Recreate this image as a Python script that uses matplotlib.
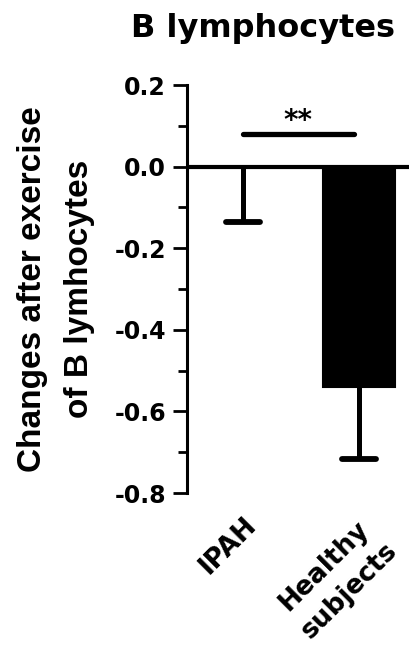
import numpy as np
import matplotlib.pyplot as plt
from matplotlib.ticker import MultipleLocator

plt.rcParams['font.family'] = ['DejaVu Sans']
plt.rcParams['font.weight'] = 'bold'

# data
groups = ['IPAH', 'Healthy\nsubjects']
means = [0.0, -0.54]
sem_low = [0.135, 0.177]
bar_colors = ['white', 'black']
sig_y = 0.08

fig = plt.figure(figsize=(4.09, 6.51), dpi=100)
ax = fig.add_axes([0.457, 0.2427, 0.543, 0.6267])

x = np.arange(len(groups))
lows = np.array(means) - np.array(sem_low)
ax.bar(x, means, width=0.62, color=bar_colors, edgecolor='black', linewidth=1.5, zorder=2)
# one-sided (downward) error bars with rounded caps
ax.vlines(x, lows, means, color='black', linewidth=3.6, zorder=3)
caps = ax.hlines(lows, x - 0.15, x + 0.15, color='black', linewidth=4.2, zorder=3)
caps.set_capstyle('round')
ax.axhline(0, color='black', linewidth=3, zorder=4)

# significance bar
ax.plot([0.0, 0.96], [sig_y, sig_y], color='black', linewidth=3.8, solid_capstyle='round')
ax.text(0.474, 0.091, '**', ha='center', va='baseline', fontsize=20, fontweight='bold')

ax.set_xlim(-0.483, 1.431)
ax.set_ylim(-0.8, 0.2)
ax.yaxis.set_major_locator(MultipleLocator(0.2))
ax.yaxis.set_minor_locator(MultipleLocator(0.1))
ax.set_yticks(ax.get_yticks())
ax.set_yticklabels([f'{v:.1f}' for v in ax.get_yticks()])
ax.set_ylim(-0.8, 0.2)

for s in ['top', 'right', 'bottom']:
    ax.spines[s].set_visible(False)
ax.spines['left'].set_linewidth(2.2)
ax.tick_params(axis='y', which='major', width=2, length=10, labelsize=17, pad=5)
ax.tick_params(axis='y', which='minor', width=2, length=6.5)
ax.tick_params(axis='x', length=0, labelsize=19, pad=14)

ax.set_xticks(x)
ax.set_xticklabels(groups, rotation=45, ha='right', va='top', rotation_mode='anchor',
                   fontweight='bold', multialignment='center', linespacing=1.45)

fig.text(56 / 409, 1 - 289 / 651, 'Changes after exercise\nof B lymhocytes',
         rotation=90, ha='center', va='center', fontsize=24, fontweight='bold',
         family='Liberation Sans', linespacing=1.7)
fig.text(263 / 409, 1 - 37 / 651, 'B lymphocytes', ha='center', va='baseline',
         fontsize=23, fontweight='bold')

fig.savefig('out.png', dpi=100)
